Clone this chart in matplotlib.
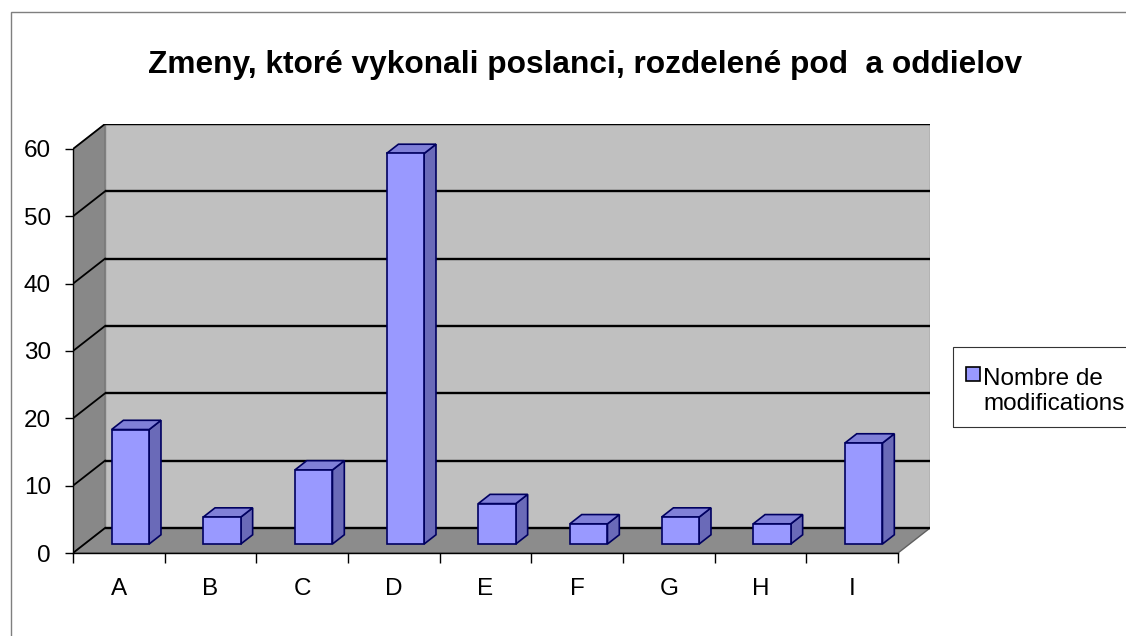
import matplotlib
matplotlib.use("Agg")
import matplotlib.pyplot as plt
from matplotlib.patches import Polygon, Rectangle

plt.rcParams['font.family'] = ['Liberation Sans', 'DejaVu Sans']

# ---- data ----
categories = ['A', 'B', 'C', 'D', 'E', 'F', 'G', 'H', 'I']
values = [17, 4, 11, 58, 6, 3, 4, 3, 15]
yticks = [0, 10, 20, 30, 40, 50, 60]
title = "Zmeny, ktoré vykonali poslanci, rozdelené pod  a oddielov"
series_name = "Nombre de\nmodifications"

# ---- style / geometry ----
W_PX, H_PX = 1126, 636
DX, DY = 0.349, 3.71          # full depth offset in data units
BW = 0.41                      # bar front-face width (category units)
F0, F1 = 0.36, 0.73            # bar front/back depth fraction
FRONT, TOP, SIDE, EDGE = '#9999ff', '#8080d8', '#6a6ab8', '#000060'
YMAX = max(yticks)

fig = plt.figure(figsize=(W_PX / 100, H_PX / 100), dpi=100)

def fx(px):
    return px / W_PX

def fy(py):
    return 1 - py / H_PX

# outer chart border
fig.add_artist(Rectangle((fx(11), fy(H_PX + 20)), 2, fy(12) - fy(H_PX + 20),
                         transform=fig.transFigure, fill=False,
                         edgecolor='#7f7f7f', lw=1.0))

# axes: x from 0..n+DX, y from 0..YMAX+DY
n = len(categories)
ax = fig.add_axes([fx(73), fy(553), fx(930) - fx(73), fy(124) - fy(553)])
ax.set_xlim(0, n + DX)
ax.set_ylim(0, YMAX + DY)
ax.patch.set_visible(False)

# walls and floor
ax.add_patch(Polygon([(0, 0), (DX, DY), (DX, YMAX + DY), (0, YMAX)],
                     closed=True, facecolor='#888888', edgecolor='#707070',
                     lw=0.8, zorder=1))
ax.add_patch(Polygon([(DX, DY), (n + DX, DY), (n + DX, YMAX + DY), (DX, YMAX + DY)],
                     closed=True, facecolor='#c0c0c0', edgecolor='#808080',
                     lw=1.0, zorder=1))
ax.add_patch(Polygon([(0, 0), (n, 0), (n + DX, DY), (DX, DY)],
                     closed=True, facecolor='#8c8c8c', edgecolor='#606060',
                     lw=1.0, zorder=1))

# gridlines on back wall and left wall
for g in yticks:
    ax.plot([DX, n + DX], [g + DY, g + DY], color='black', lw=1.7, zorder=2,
            solid_capstyle='butt')
    ax.plot([0, DX], [g, g + DY], color='black', lw=1.3, zorder=2)

# 3D bars
d = F1 - F0
for i, v in enumerate(values):
    x0 = i + 0.5 - BW / 2 + F0 * DX
    x1 = x0 + BW
    y0 = F0 * DY
    front = [(x0, y0), (x1, y0), (x1, y0 + v), (x0, y0 + v)]
    side = [(x1, y0), (x1 + d * DX, y0 + d * DY),
            (x1 + d * DX, y0 + d * DY + v), (x1, y0 + v)]
    top = [(x0, y0 + v), (x1, y0 + v), (x1 + d * DX, y0 + v + d * DY),
           (x0 + d * DX, y0 + v + d * DY)]
    for poly, col in ((side, SIDE), (top, TOP), (front, FRONT)):
        ax.add_patch(Polygon(poly, closed=True, facecolor=col, edgecolor=EDGE,
                             lw=1.2, joinstyle='miter', zorder=3))

# axes spines / ticks
for s in ('top', 'right'):
    ax.spines[s].set_visible(False)
ax.spines['left'].set_bounds(0, YMAX)
ax.spines['bottom'].set_bounds(0, n)
ax.spines['left'].set_zorder(4)
ax.spines['bottom'].set_zorder(4)
ax.spines['left'].set_linewidth(1.0)
ax.spines['bottom'].set_linewidth(1.0)

ax.set_yticks(yticks)
ax.set_yticklabels([str(t) for t in yticks])
ax.tick_params(axis='y', length=6, width=1, pad=10, labelsize=17.5, direction='out')

ax.set_xticks(range(n + 1))
ax.set_xticklabels([''] * (n + 1))
ax.set_xticks([i + 0.5 for i in range(n)], minor=True)
ax.set_xticklabels(categories, minor=True)
ax.tick_params(axis='x', which='major', length=7, width=1, direction='out')
ax.tick_params(axis='x', which='minor', length=0, pad=18, labelsize=17.5)

# title
fig.text(fx(585), fy(73), title, ha='center', va='baseline',
         fontsize=22.8, fontweight='bold')

# legend (manual)
fig.add_artist(Rectangle((fx(953), fy(427)), fx(200), fy(347) - fy(427),
                         transform=fig.transFigure, fill=False,
                         edgecolor='#333333', lw=0.8))
fig.add_artist(Rectangle((fx(966), fy(381)), fx(14), fy(367) - fy(381),
                         transform=fig.transFigure, facecolor=FRONT,
                         edgecolor='black', lw=1.2))
fig.text(fx(983), fy(410), series_name, ha='left', va='baseline',
         fontsize=17.5, linespacing=1.2, multialignment='left')

fig.savefig('out.png', dpi=100)
